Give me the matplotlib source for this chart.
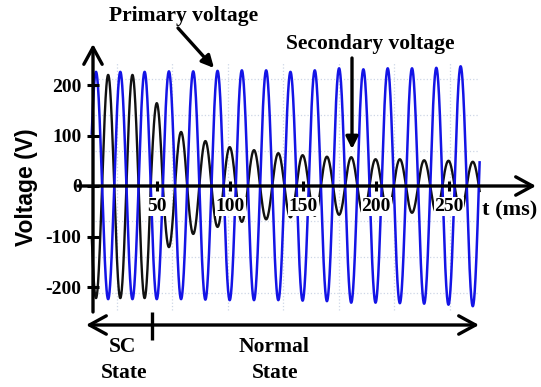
import matplotlib
matplotlib.use("Agg")
import numpy as np
import matplotlib.pyplot as plt
from matplotlib.ticker import FixedLocator, FixedFormatter

# ---------------- data ----------------
freq_hz = 60.0
first_extreme_ms = 7.95          # time of the first primary peak
t_start_ms, t_end_ms = 5.0, 271.0

# primary voltage: positive peaks and negative troughs per cycle (V)
primary_peaks = [226, 226, 226, 227, 227, 228, 229, 229, 226, 229, 233, 231,
                 233, 233, 234, 237, 237]
primary_troughs = [-224, -224, -224, -224, -225, -226, -226, -226, -227, -228,
                   -231, -231, -232, -233, -235, -238]

# secondary voltage: troughs (at primary peaks) and peaks (at primary troughs)
secondary_troughs = [-222, -222, -222, -121, -95, -81, -71, -66, -62, -59,
                     -57, -55, -54, -53, -52, -51, -50]
secondary_peaks = [220, 220, 164, 107, 89, 77, 71, 65, 61, 58, 57, 53, 53,
                   51, 50, 48]

x_ticks = [50, 100, 150, 200, 250]
x_tick_labels = ["50", "100", "150", "200", "250"]
y_ticks = [-200, -100, 0, 100, 200]
y_tick_labels = ["-200", "-100", "0", "100", "200"]

grid_v = [-212, -141, -70, 70, 141, 212]
grid_t = [22.4, 60.4, 98.5, 136.5, 174.5, 212.6, 250.6]

# ---------------- figure / pixel mapping ----------------
W, H = 541, 387
fig = plt.figure(figsize=(W / 100, H / 100), dpi=100)
ax = fig.add_axes([0, 0, 1, 1])

X0_PX, PX_PER_MS = 84.4, 1.4585
Y0_PX, PX_PER_V = 186.0, 0.505


def tx(px):
    return (px - X0_PX) / PX_PER_MS


def vy(py):
    return (Y0_PX - py) / PX_PER_V


ax.set_xlim(tx(0), tx(W))
ax.set_ylim(vy(H), vy(0))
for s in ax.spines.values():
    s.set_visible(False)
ax.spines["left"].set_position(("data", tx(93)))
ax.spines["bottom"].set_position(("data", 0))
ax.patch.set_alpha(0)

SERIF = "Liberation Serif"
SANS = "Liberation Sans"


def interleave(a, b):
    out = []
    for i in range(max(len(a), len(b))):
        if i < len(a):
            out.append(a[i])
        if i < len(b):
            out.append(b[i])
    return out


def waveform(extremes, first_center, period, t0, t1):
    ts, vs = [], []
    for j, e in enumerate(extremes):
        c = first_center + j * period / 2
        t = np.linspace(c - period / 4, c + period / 4, 80)
        ts.append(t)
        vs.append(e * np.cos(2 * np.pi * (t - c) / period))
    t = np.concatenate(ts)
    v = np.concatenate(vs)
    m = (t >= t0) & (t <= t1)
    return t[m], v[m]


period_ms = 1000.0 / freq_hz

# grid (faint dotted)
ax.hlines(grid_v, tx(95), tx(478), colors="#cdd6e6", linestyles=":", lw=0.9, zorder=0.3)
ax.vlines(grid_t, vy(310), vy(62), colors="#cdd6e6", linestyles=":", lw=0.9, zorder=0.3)

tb, vb = waveform(interleave(secondary_troughs, secondary_peaks),
                  first_extreme_ms, period_ms, t_start_ms, t_end_ms)
ax.plot(tb, vb, color="#111111", lw=1.7, zorder=1.0)

tp, vp = waveform(interleave(primary_peaks, primary_troughs),
                  first_extreme_ms, period_ms, t_start_ms, t_end_ms)
ax.plot(tp, vp, color="#1414e6", lw=1.8, zorder=1.5)

# axes arrows
arrow_kw = dict(color="black", lw=2.4, shrinkA=0, shrinkB=0)
ax.annotate("", xy=(tx(93), vy(44)), xytext=(tx(93), vy(312)),
            arrowprops=dict(arrowstyle="->,head_length=0.55,head_width=0.3",
                            mutation_scale=22, **arrow_kw),
            annotation_clip=False, zorder=2.2)
ax.annotate("", xy=(tx(536), 0), xytext=(tx(78), 0),
            arrowprops=dict(arrowstyle="->,head_length=0.55,head_width=0.3",
                            mutation_scale=22, **arrow_kw),
            annotation_clip=False, zorder=2.2)

# ticks
ax.xaxis.set_major_locator(FixedLocator(x_ticks))
ax.xaxis.set_major_formatter(FixedFormatter(x_tick_labels))
ax.yaxis.set_major_locator(FixedLocator(y_ticks))
ax.yaxis.set_major_formatter(FixedFormatter(y_tick_labels))
ax.tick_params(axis="x", direction="inout", length=7, width=2.2, pad=5.0,
               labelsize=14)
ax.tick_params(axis="y", direction="inout", length=8, width=2.2, pad=4.2,
               labelsize=14)
for lab in ax.get_xticklabels():
    lab.set_fontfamily(SERIF)
    lab.set_fontweight("bold")
    lab.set_bbox(dict(facecolor="white", edgecolor="none", pad=0.6))
for lab in ax.get_yticklabels():
    lab.set_fontfamily(SERIF)
    lab.set_fontweight("bold")


def ftext(px, py, s, **kw):
    fig.text(px / W, 1 - py / H, s, **kw)


ftext(26, 187, "Voltage (V)", rotation=90, ha="center", va="center",
      fontsize=16.5, fontweight="bold", fontfamily=SANS)
ftext(482, 215, "t (ms)", ha="left", va="baseline", fontsize=16,
      fontweight="bold", fontfamily=SERIF)

# annotations
ftext(184, 21, "Primary voltage", ha="center", va="baseline", fontsize=15.5,
      fontweight="bold", fontfamily=SERIF)
ax.annotate("", xy=(tx(214), vy(68)), xytext=(tx(178), vy(28)),
            arrowprops=dict(arrowstyle="-|>", mutation_scale=18, **arrow_kw),
            annotation_clip=False, zorder=6)
ftext(370, 49, "Secondary voltage", ha="center", va="baseline", fontsize=15.5,
      fontweight="bold", fontfamily=SERIF)
ax.annotate("", xy=(tx(352), vy(149)), xytext=(tx(352), vy(58)),
            arrowprops=dict(arrowstyle="-|>", mutation_scale=18, **arrow_kw),
            annotation_clip=False, zorder=6)

# state indicator
ax.annotate("", xy=(tx(479), vy(325)), xytext=(tx(86), vy(325)),
            arrowprops=dict(arrowstyle="<->,head_length=0.55,head_width=0.3",
                            mutation_scale=22, **arrow_kw),
            annotation_clip=False)
ax.plot([tx(152), tx(152)], [vy(312), vy(340)], color="black", lw=2.4,
        solid_capstyle="butt", clip_on=False)
for px, py, s in [(123, 352, "SC"), (124, 378, "State"),
                  (274, 352, "Normal"), (275, 378, "State")]:
    ftext(px, py, s, ha="center", va="baseline", fontsize=15.5,
          fontweight="bold", fontfamily=SERIF)

fig.savefig("out.png", dpi=100)
